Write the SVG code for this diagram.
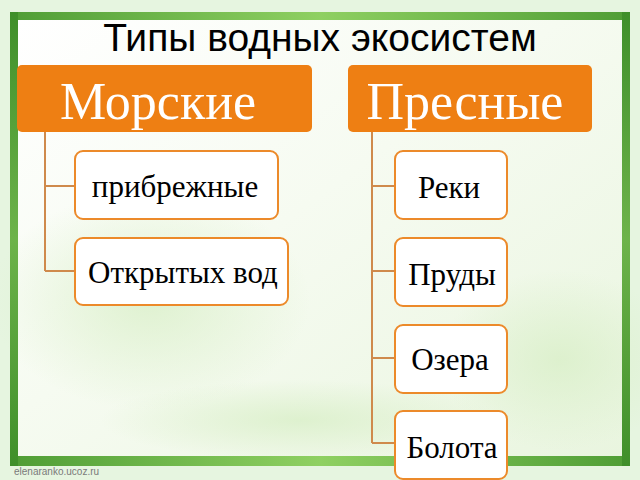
<svg xmlns="http://www.w3.org/2000/svg" width="640" height="480" viewBox="0 0 640 480">
  <defs>
    <linearGradient id="frameG" x1="0" y1="0" x2="0" y2="1">
      <stop offset="0" stop-color="#3f8f2a"/>
      <stop offset="0.5" stop-color="#6db34a"/>
      <stop offset="1" stop-color="#3f8f2a"/>
    </linearGradient>
    <linearGradient id="frameH" x1="0" y1="0" x2="1" y2="0">
      <stop offset="0" stop-color="#4f9d35"/>
      <stop offset="0.5" stop-color="#8fd062"/>
      <stop offset="1" stop-color="#4f9d35"/>
    </linearGradient>
    <linearGradient id="innerG" x1="0" y1="0" x2="1" y2="1">
      <stop offset="0" stop-color="#ffffff"/>
      <stop offset="0.45" stop-color="#f6fbf1"/>
      <stop offset="1" stop-color="#e9f5df"/>
    </linearGradient>
    <radialGradient id="glow" cx="0.5" cy="0.5" r="0.5">
      <stop offset="0" stop-color="#d9efc8" stop-opacity="0.8"/>
      <stop offset="1" stop-color="#d9efc8" stop-opacity="0"/>
    </radialGradient>
  </defs>
  <style>
    .head { fill: #ee7f13; }
    .headText { font-family: "Liberation Serif", serif; font-size: 52px; fill: #ffffff; text-anchor: middle; }
    .child { fill: #ffffff; stroke: #ec8a2a; stroke-width: 2; }
    .childText { font-family: "Liberation Serif", serif; font-size: 31px; fill: #000000; text-anchor: middle; }
    .conn { fill: none; stroke: #cf8a4c; stroke-width: 2; }
  </style>

  <!-- background -->
  <rect x="0" y="0" width="640" height="480" fill="#e6f5e0"/>
  <rect x="10" y="12" width="620" height="454" fill="url(#frameH)"/>
  <rect x="18" y="20" width="604" height="437" fill="url(#innerG)"/>
  <ellipse cx="150" cy="300" rx="160" ry="110" fill="url(#glow)"/>
  <ellipse cx="560" cy="360" rx="120" ry="90" fill="url(#glow)"/>
  <ellipse cx="300" cy="420" rx="200" ry="40" fill="url(#glow)"/>
  <rect x="10" y="456" width="620" height="10" fill="url(#frameH)"/>
  <rect x="10" y="12" width="620" height="8" fill="url(#frameH)"/>
  <rect x="10" y="12" width="8" height="454" fill="url(#frameG)"/>
  <rect x="622" y="12" width="8" height="454" fill="url(#frameG)"/>

  <text id="title" x="320" y="51" font-family="Liberation Sans, Arial, sans-serif" font-size="39" fill="#000000" text-anchor="middle">Типы водных экосистем</text>

  <g id="connectors">
    <path class="conn" d="M45 132 V271 M45 186 H75 M45 271 H75"/>
    <path class="conn" d="M372 132 V443 M372 186 H395 M372 271 H395 M372 358 H395 M372 443 H395"/>
  </g>

  <g id="morskie">
    <rect class="head" x="17" y="65" width="295" height="67" rx="5"/>
    <text class="headText" x="158" y="119">Морские</text>
  </g>
  <g id="presnye">
    <rect class="head" x="348" y="65" width="244" height="67" rx="5"/>
    <text class="headText" x="465" y="119">Пресные</text>
  </g>

  <g id="pribrezhnye">
    <rect class="child" x="75" y="151" width="203" height="68" rx="8"/>
    <text class="childText" x="175" y="197">прибрежные</text>
  </g>
  <g id="otkrytykh">
    <rect class="child" x="75" y="238" width="213" height="67" rx="8"/>
    <text class="childText" x="183" y="283">Открытых вод</text>
  </g>
  <g id="reki">
    <rect class="child" x="395" y="151" width="112" height="68" rx="8"/>
    <text class="childText" x="449" y="198">Реки</text>
  </g>
  <g id="prudy">
    <rect class="child" x="395" y="238" width="112" height="68" rx="8"/>
    <text class="childText" x="452" y="285">Пруды</text>
  </g>
  <g id="ozera">
    <rect class="child" x="395" y="325" width="112" height="68" rx="8"/>
    <text class="childText" x="450" y="370">Озера</text>
  </g>
  <g id="bolota">
    <rect class="child" x="395" y="411" width="112" height="68" rx="8"/>
    <text class="childText" x="452" y="458">Болота</text>
  </g>

  <text id="footer" x="14" y="475" font-family="Liberation Sans, Arial, sans-serif" font-size="10" fill="#7a7a7a">elenaranko.ucoz.ru</text>
</svg>
